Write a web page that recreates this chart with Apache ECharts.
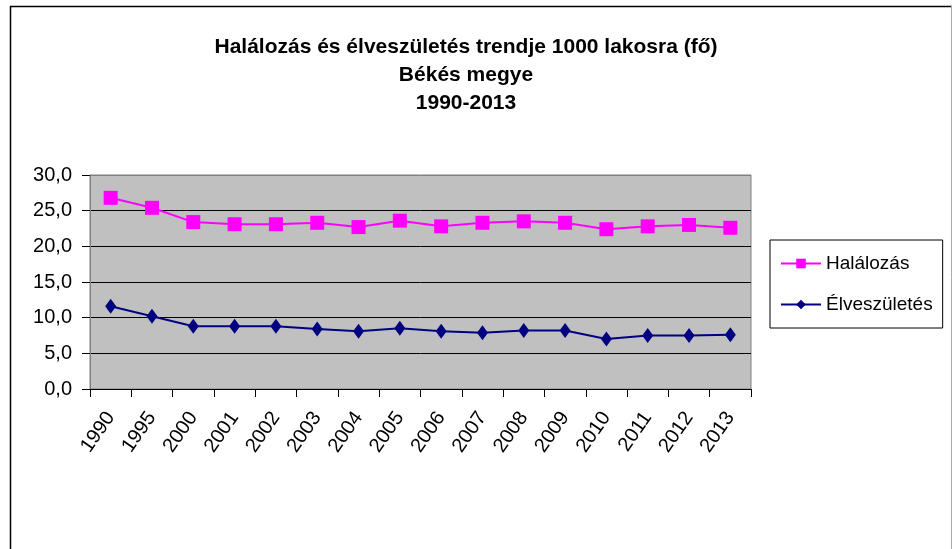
<!DOCTYPE html>
<html>
<head>
<meta charset="utf-8">
<script src="https://cdn.jsdelivr.net/npm/echarts@6/dist/echarts.min.js"></script>
<style>
  html, body { margin: 0; padding: 0; background: #fff; }
  #chart { width: 952px; height: 549px; }
</style>
</head>
<body>
<div id="chart"></div>
<script>
var years = ['1990', '1995', '2000', '2001', '2002', '2003', '2004', '2005',
             '2006', '2007', '2008', '2009', '2010', '2011', '2012', '2013'];
var halalozas = [26.8, 25.4, 23.4, 23.1, 23.1, 23.3, 22.7, 23.6,
                 22.8, 23.3, 23.5, 23.3, 22.4, 22.8, 23.0, 22.6];
var elveszuletes = [11.6, 10.2, 8.8, 8.8, 8.8, 8.4, 8.1, 8.5,
                    8.1, 7.9, 8.2, 8.2, 7.0, 7.5, 7.5, 7.6];

var font = "'Liberation Sans', Arial, sans-serif";
var myChart = echarts.init(document.getElementById('chart'));
var option = {
    animation: false,
    title: {
        text: 'Halálozás és élveszületés trendje 1000 lakosra (fő)\nBékés megye\n1990-2013',
        left: 461,
        textAlign: 'center',
        top: 28,
        textStyle: {
            fontFamily: font,
            fontSize: 21,
            fontWeight: 'bold',
            color: '#000',
            lineHeight: 28
        }
    },
    legend: {
        orient: 'vertical',
        left: 770,
        top: 240,
        width: 150,
        padding: [14, 10, 14, 10],
        itemGap: 22,
        itemWidth: 40,
        itemHeight: 12,
        borderColor: '#000',
        borderWidth: 1,
        textStyle: { fontFamily: font, fontSize: 19, color: '#000' },
        data: ['Halálozás', 'Élveszületés']
    },
    grid: {
        left: 90,
        top: 175,
        width: 661,
        height: 214,
        show: true,
        backgroundColor: '#C0C0C0',
        borderColor: '#808080',
        borderWidth: 1
    },
    xAxis: {
        type: 'category',
        data: years,
        boundaryGap: true,
        axisLine: { lineStyle: { color: '#000', width: 1 } },
        axisTick: { show: true, length: 8, lineStyle: { color: '#000' } },
        axisLabel: {
            rotate: 55,
            margin: 25,
            interval: 0,
            fontFamily: font,
            fontSize: 20,
            color: '#000'
        }
    },
    yAxis: {
        type: 'value',
        min: 0,
        max: 30,
        interval: 5,
        axisLine: { show: true, lineStyle: { color: '#808080' } },
        axisTick: { show: true, length: 8, lineStyle: { color: '#000' } },
        axisLabel: {
            margin: 18,
            fontFamily: font,
            fontSize: 20,
            color: '#000',
            formatter: function (v) { return v.toFixed(1).replace('.', ','); }
        },
        splitLine: {
            show: true,
            lineStyle: { color: ['#000', '#000', '#000', '#000', '#000', '#000', '#808080'], width: 1 }
        }
    },
    graphic: [
        { type: 'line', shape: { x1: 10.5, y1: 6, x2: 10.5, y2: 549 }, style: { stroke: '#000', lineWidth: 1.5 } },
        { type: 'line', shape: { x1: 10, y1: 6.5, x2: 952, y2: 6.5 }, style: { stroke: '#000', lineWidth: 1.5 } },
        { type: 'line', shape: { x1: 951.5, y1: 6, x2: 951.5, y2: 549 }, style: { stroke: '#aaa', lineWidth: 1 } }
    ],
    series: [
        {
            name: 'Halálozás',
            type: 'line',
            data: halalozas,
            symbol: 'rect',
            symbolSize: 14,
            color: '#FF00FF',
            lineStyle: { width: 2, color: '#FF00FF' },
            itemStyle: { color: '#FF00FF' }
        },
        {
            name: 'Élveszületés',
            type: 'line',
            data: elveszuletes,
            symbol: 'diamond',
            symbolSize: [11, 15],
            color: '#000080',
            lineStyle: { width: 2, color: '#000080' },
            itemStyle: { color: '#000080' }
        }
    ]
};
myChart.setOption(option);
</script>
</body>
</html>
